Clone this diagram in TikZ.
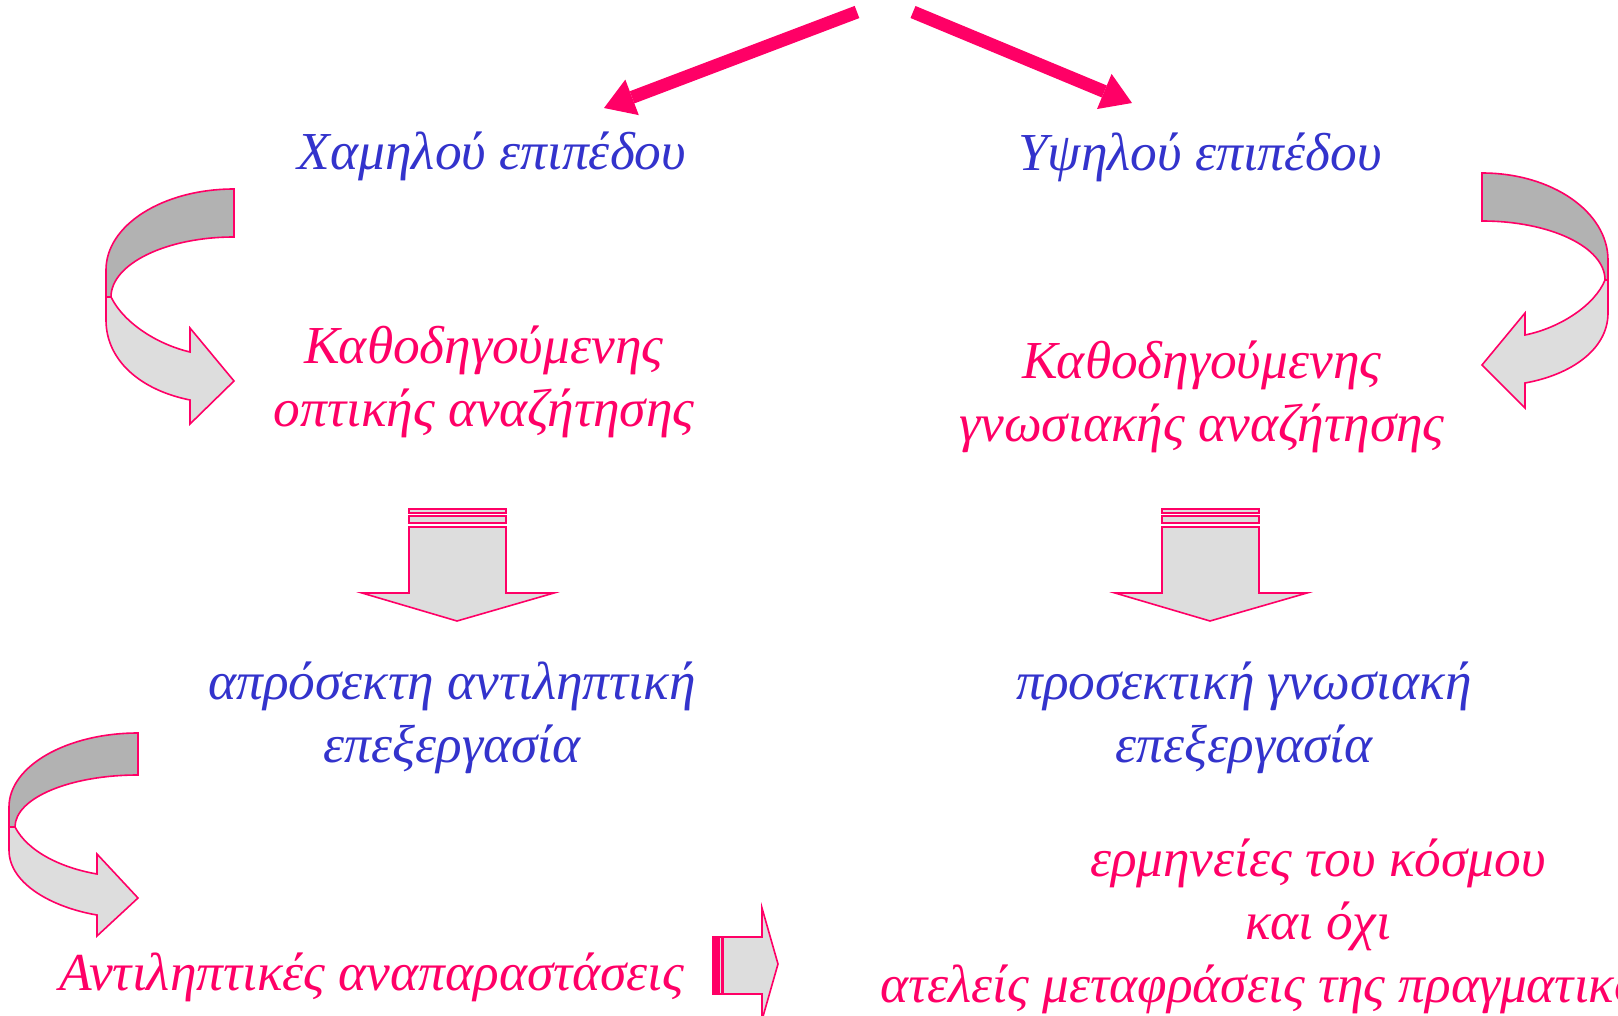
\documentclass[tikz,border=0pt]{standalone}
\usepackage{fontspec}
\setmainfont{Liberation Serif}
\usetikzlibrary{arrows.meta}
\definecolor{pk}{HTML}{FF0066}
\definecolor{bl}{HTML}{3333CC}
\definecolor{lightg}{HTML}{DDDDDD}
\definecolor{darkg}{HTML}{B2B2B2}
\begin{document}
\begin{tikzpicture}[x=0.5pt,y=-0.5pt,
  txt/.style={font=\fontsize{26.7pt}{31.5pt}\selectfont\itshape, inner sep=0pt, align=center, anchor=base},
  pinktxt/.style={txt,text=pk},
  bluetxt/.style={txt,text=bl},
  shapeline/.style={draw=pk, line width=0.8pt, line join=miter},
  lightpart/.style={shapeline, fill=lightg},
  darkpart/.style={shapeline, fill=darkg},
  bigarrow/.style={draw=pk, line width=6.5pt, -{Triangle[length=15pt,width=19pt,line width=0pt]}}
]
\useasboundingbox (0,0) rectangle (1618,1016);
\clip (0,0) rectangle (1618,1016);

% text nodes (base anchor = baseline of the last line)
\node[bluetxt] (low) at (492,170) {Χαμηλού επιπέδου};
\node[bluetxt] (high) at (1200,171) {Υψηλού επιπέδου};
\node[pinktxt] (lsearch) at (484,426) {Καθοδηγούμενης\\οπτικής αναζήτησης};
\node[pinktxt] (rsearch) at (1202,441) {Καθοδηγούμενης\\γνωσιακής αναζήτησης};
\node[bluetxt] (lproc) at (452,762) {απρόσεκτη αντιληπτική\\επεξεργασία};
\node[bluetxt] (rproc) at (1244,762) {προσεκτική γνωσιακή\\επεξεργασία};
\node[pinktxt] (repr) at (372,990) {Αντιληπτικές αναπαραστάσεις};
\node[pinktxt] (interp) at (1318,1002) {ερμηνείες του κόσμου\\και όχι\\ατελείς μεταφράσεις της πραγματικότητας};

% top connectors
\coordinate (srcL) at (857,12);
\coordinate (srcR) at (913,12);
\coordinate (tipL) at (604,108);
\coordinate (tipR) at (1132,103);
\draw[bigarrow] (srcL) -- (tipL);
\draw[bigarrow] (srcR) -- (tipR);

% curved arrow 1
\draw[darkpart] (234,189) .. controls (163,189) and (106,225) .. (106,270) -- (106,297) -- (111,297) .. controls (111,264) and (166,237) .. (234,237) -- cycle;
\draw[lightpart] (111,297) .. controls (125,325) and (160,345) .. (190,352) -- (190,328) -- (234,381) -- (190,424) -- (190,400) .. controls (140,390) and (106,360) .. (106,320) -- (106,297) -- cycle;

% curved arrow 2
\draw[darkpart] (1482,173) .. controls (1552,173) and (1608,212) .. (1608,260) -- (1608,280) -- (1605,280) .. controls (1605,247) and (1550,221) .. (1482,221) -- cycle;
\draw[lightpart] (1605,280) .. controls (1595,305) and (1560,328) .. (1525,335) -- (1525,313) -- (1482,365) -- (1525,408) -- (1525,383) .. controls (1570,375) and (1608,350) .. (1608,313) -- (1608,280) -- cycle;

% curved arrow 3
\draw[darkpart] (138,733) .. controls (67,733) and (9,766) .. (9,807) -- (9,827) -- (15,827) .. controls (15,798) and (70,775) .. (138,775) -- cycle;
\draw[lightpart] (15,827) .. controls (28,852) and (62,868) .. (97,874) -- (97,854) -- (138,898) -- (97,936) -- (97,915) .. controls (55,908) and (9,885) .. (9,850) -- (9,827) -- cycle;

% down block arrows
\foreach \dx in {0,753} {
  \begin{scope}[shift={(\dx,0)}]
    \draw[lightpart] (409,509) rectangle (506,513);
    \draw[lightpart] (409,516) rectangle (506,523);
    \draw[lightpart] (409,527) -- (506,527) -- (506,593) -- (554,593) -- (457,621) -- (362,593) -- (409,593) -- cycle;
  \end{scope}
}

% small right block arrow
\draw[shapeline, fill=pk] (713,937) rectangle (717,994);
\draw[lightpart] (719,937) rectangle (722,994);
\draw[lightpart] (723,937) -- (762,937) -- (762,908) -- (778,964) -- (762,1020) -- (762,994) -- (723,994) -- cycle;
\end{tikzpicture}
\end{document}
